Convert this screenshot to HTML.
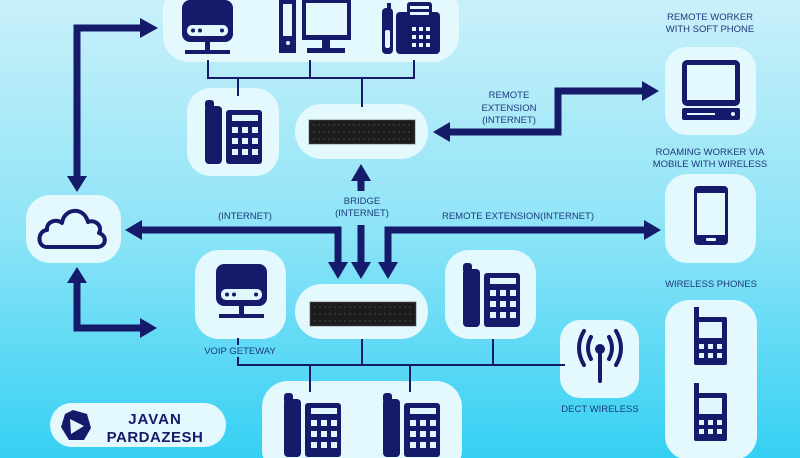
<!DOCTYPE html>
<html><head><meta charset="utf-8"><style>
html,body{margin:0;padding:0;width:800px;height:458px;overflow:hidden}
svg{display:block}
text{font-family:"Liberation Sans",sans-serif;fill:#1e3a7a;font-size:9.5px;text-anchor:middle}
</style></head><body>
<svg width="800" height="458" viewBox="0 0 800 458" xmlns="http://www.w3.org/2000/svg">
<defs>
<linearGradient id="bg" x1="0" y1="0" x2="0" y2="1">
<stop offset="0" stop-color="#c9f0fa"/><stop offset="0.5" stop-color="#8ee4f7"/><stop offset="1" stop-color="#35d0f3"/>
</linearGradient>
<g id="phone">
<rect x="0" y="0" width="9" height="10" rx="3" fill="#151a6b"/>
<rect x="0" y="6" width="17" height="58" rx="4" fill="#151a6b"/>
<rect x="21" y="10" width="36" height="54" rx="3" fill="#151a6b"/>
<rect x="27" y="15" width="26" height="6" fill="#dff7fd"/>
<g fill="#dff7fd">
<rect x="27" y="27" width="6" height="6"/><rect x="37" y="27" width="6" height="6"/><rect x="47" y="27" width="6" height="6"/>
<rect x="27" y="38" width="6" height="6"/><rect x="37" y="38" width="6" height="6"/><rect x="47" y="38" width="6" height="6"/>
<rect x="27" y="49" width="6" height="6"/><rect x="37" y="49" width="6" height="6"/><rect x="47" y="49" width="6" height="6"/>
</g>
</g>
<g id="pbx">
<rect x="0" y="0" width="106" height="24" fill="#1c1c1c" stroke="#555" stroke-width="0.6"/>
<g stroke="#777" stroke-width="0.6" stroke-dasharray="2 3">
<line x1="4" y1="5" x2="102" y2="5"/><line x1="4" y1="12" x2="102" y2="12"/><line x1="4" y1="19" x2="102" y2="19"/>
</g>
</g>
<g id="wphone">
<rect x="0" y="0" width="5" height="14" fill="#151a6b"/>
<rect x="0" y="10" width="33" height="48" rx="2" fill="#151a6b"/>
<rect x="5" y="15" width="23" height="16" fill="#dff7fd"/>
<g fill="#dff7fd"><rect x="5" y="37" width="5" height="5"/><rect x="14" y="37" width="5" height="5"/><rect x="23" y="37" width="5" height="5"/>
<rect x="5" y="46" width="5" height="5"/><rect x="14" y="46" width="5" height="5"/><rect x="23" y="46" width="5" height="5"/></g>
</g>
<g id="server">
<rect x="0" y="0" width="51" height="42" rx="8" fill="#151a6b"/>
<rect x="5" y="25" width="41" height="11" rx="5" fill="#dff7fd"/>
<circle cx="11" cy="30.5" r="2" fill="#151a6b"/><circle cx="18" cy="30.5" r="2" fill="#151a6b"/><circle cx="40" cy="30.5" r="2" fill="#151a6b"/>
<rect x="23" y="42" width="5" height="10" fill="#151a6b"/>
<rect x="3" y="50" width="45" height="4" fill="#151a6b"/>
</g>
</defs>
<rect width="800" height="458" fill="url(#bg)"/>

<g fill="#e3f9fe">
<rect x="163" y="-15" width="296" height="77" rx="26"/>
<rect x="187" y="88" width="92" height="88" rx="24"/>
<rect x="295" y="104" width="133" height="55" rx="27"/>
<rect x="665" y="47" width="91" height="88" rx="22"/>
<rect x="665" y="174" width="91" height="89" rx="22"/>
<rect x="26" y="195" width="95" height="68" rx="24"/>
<rect x="195" y="250" width="91" height="89" rx="24"/>
<rect x="295" y="284" width="133" height="55" rx="27"/>
<rect x="445" y="250" width="91" height="89" rx="24"/>
<rect x="560" y="320" width="79" height="78" rx="20"/>
<rect x="665" y="300" width="92" height="160" rx="24"/>
<rect x="262" y="381" width="200" height="95" rx="26"/>
<rect x="50" y="403" width="176" height="44" rx="22"/>
</g>

<g stroke="#151a6b" stroke-width="2" fill="none">
<path d="M208 60V78H414V60M310 60V78M238 78V96M362 78V107"/>
<path d="M238 338V345M238 357V365H565M362 339V365M493 339V365M310 365V392M410 365V392"/>
</g>

<g stroke="#151a6b" stroke-width="7" fill="none">
<path d="M145 28H77V180"/>
<path d="M77 280V328H145"/>
<path d="M138 230H338V265"/>
<path d="M361 225V265"/>
<path d="M361 178V191"/>
<path d="M648 230H388V265"/>
<path d="M446 132H558V91H645"/>
</g>
<g fill="#151a6b">
<polygon points="158,28 140,18 140,38"/>
<polygon points="77,192 67,176 87,176"/>
<polygon points="77,267 67,283 87,283"/>
<polygon points="157,328 140,318 140,338"/>
<polygon points="125,230 142,220 142,240"/>
<polygon points="338,279 328,262 348,262"/>
<polygon points="361,279 351,262 371,262"/>
<polygon points="388,279 378,262 398,262"/>
<polygon points="361,164 351,181 371,181"/>
<polygon points="661,230 644,220 644,240"/>
<polygon points="433,132 450,122 450,142"/>
<polygon points="659,91 642,81 642,101"/>
</g>

<use href="#server" x="182" y="0"/>
<g fill="#151a6b">
<rect x="279" y="0" width="17" height="53"/>
<rect x="283" y="4" width="9" height="32" fill="#e3f9fe"/>
<circle cx="288" cy="43" r="2" fill="#e3f9fe"/>
<rect x="302" y="0" width="49" height="40"/>
<rect x="306" y="3" width="41" height="32" fill="#e3f9fe"/>
<rect x="322" y="40" width="8" height="9"/><rect x="307" y="48" width="38" height="5"/>
<rect x="382" y="8" width="11" height="46" rx="4"/>
<rect x="387" y="3" width="4" height="8"/>
<rect x="385" y="30" width="5" height="18" rx="2" fill="#e3f9fe"/>
<rect x="396" y="12" width="44" height="42" rx="4"/>
<rect x="407" y="2" width="25" height="18" rx="3" fill="#151a6b"/>
<rect x="410" y="6" width="19" height="3" fill="#e3f9fe"/><rect x="410" y="12" width="19" height="3" fill="#e3f9fe"/>
<g fill="#e3f9fe"><rect x="412" y="27" width="4" height="4"/><rect x="419" y="27" width="4" height="4"/><rect x="426" y="27" width="4" height="4"/>
<rect x="412" y="35" width="4" height="4"/><rect x="419" y="35" width="4" height="4"/><rect x="426" y="35" width="4" height="4"/>
<rect x="412" y="43" width="4" height="4"/><rect x="419" y="43" width="4" height="4"/><rect x="426" y="43" width="4" height="4"/></g>
</g>

<use href="#phone" x="205" y="100"/>
<use href="#pbx" x="309" y="120"/>
<use href="#pbx" x="310" y="302"/>
<use href="#server" x="216" y="264"/>
<use href="#phone" x="463" y="263"/>
<use href="#phone" x="284" y="393"/>
<use href="#phone" x="383" y="393"/>
<use href="#wphone" x="694" y="307"/>
<use href="#wphone" x="694" y="383"/>

<g fill="#151a6b">
<rect x="682" y="60" width="58" height="46" rx="5"/>
<rect x="687" y="65" width="48" height="35" fill="#e3f9fe"/>
<rect x="682" y="108" width="58" height="12" rx="2"/>
<rect x="687" y="113" width="28" height="2" fill="#e3f9fe"/>
<circle cx="733" cy="114" r="2" fill="#e3f9fe"/>
<rect x="694" y="186" width="34" height="59" rx="4"/>
<rect x="697" y="193" width="28" height="42" fill="#e3f9fe"/>
<rect x="706" y="238" width="10" height="3" rx="1" fill="#e3f9fe"/>
</g>

<path d="M47 247 C37 247 37 231 47 230 C46 222 56 218 62 223 C64 208 84 206 88 222 C95 219 103 226 99 233 C108 236 106 247 97 247 Z" fill="none" stroke="#151a6b" stroke-width="4" stroke-linejoin="round"/>

<g stroke="#151a6b" stroke-width="4" fill="none" stroke-linecap="round">
<path d="M584 331 Q574 348 584 365"/><path d="M616 331 Q626 348 616 365"/>
<path d="M591 337 Q585 348 591 359"/><path d="M609 337 Q615 348 609 359"/>
<line x1="600" y1="350" x2="600" y2="381"/>
</g>
<circle cx="600" cy="349" r="5" fill="#151a6b"/>

<polygon points="73,410 87,414 91,428 84,440 69,440 61,427 65,414" fill="#151a6b"/>
<polygon points="70,419 84,426 71,434" fill="#e3f9fe"/>
<text x="155" y="424" style="font-size:15px;font-weight:bold;fill:#151a6b;letter-spacing:1px">JAVAN</text>
<text x="155" y="442" style="font-size:15px;font-weight:bold;fill:#151a6b;letter-spacing:0.5px">PARDAZESH</text>

<text x="710" y="20">REMOTE WORKER</text>
<text x="710" y="32">WITH SOFT PHONE</text>
<text x="710" y="155">ROAMING WORKER VIA</text>
<text x="710" y="167">MOBILE WITH WIRELESS</text>
<text x="509" y="98">REMOTE</text>
<text x="509" y="111">EXTENSION</text>
<text x="509" y="123">(INTERNET)</text>
<text x="362" y="204">BRIDGE</text>
<text x="362" y="216">(INTERNET)</text>
<text x="245" y="219">(INTERNET)</text>
<text x="518" y="219">REMOTE EXTENSION(INTERNET)</text>
<text x="711" y="287">WIRELESS PHONES</text>
<text x="240" y="354">VOIP GETEWAY</text>
<text x="600" y="412">DECT WIRELESS</text>
</svg>
</body></html>
